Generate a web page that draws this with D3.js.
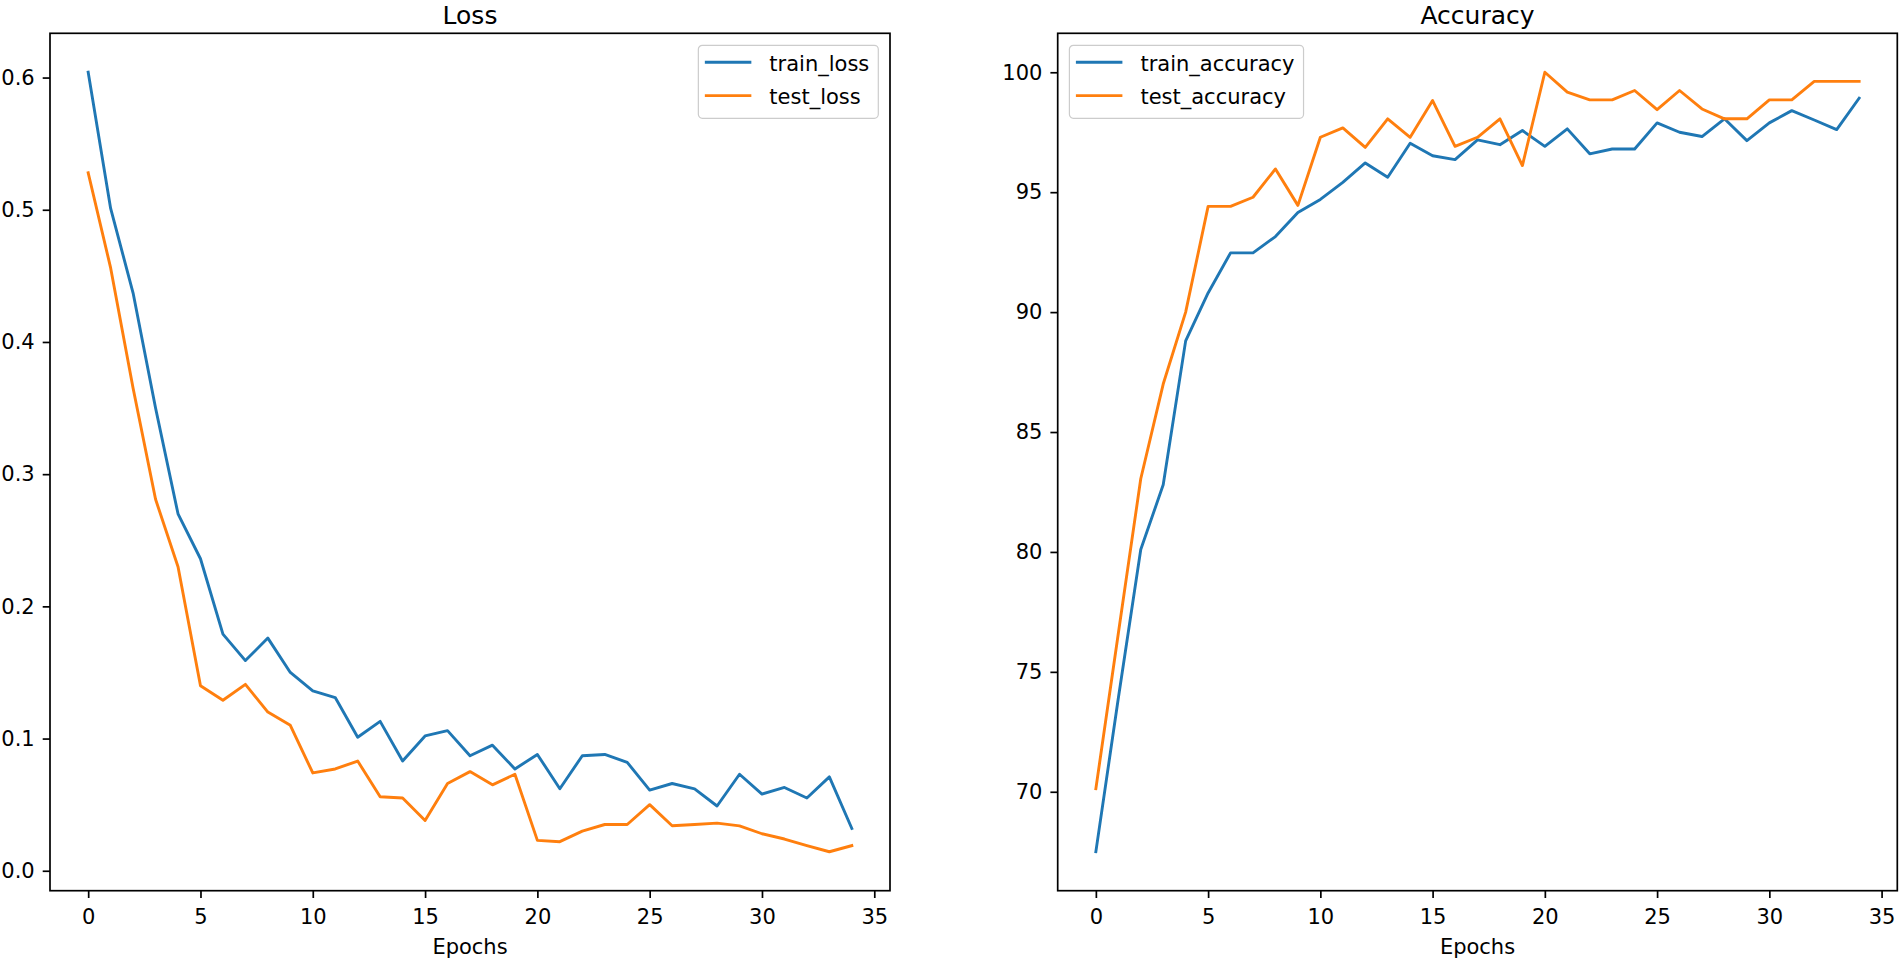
<!DOCTYPE html>
<html>
<head>
<meta charset="utf-8">
<script src="https://cdn.jsdelivr.net/npm/d3@7/dist/d3.min.js"></script>
<style>
    body { margin: 0; background: #fff; }
    svg { font-family: "DejaVu Sans", sans-serif; }
</style>
</head>
<body>
<svg id="chart" width="1901" height="961"></svg>
<script>
// dados
const epochs = [0, 1, 2, 3, 4, 5, 6, 7, 8, 9, 10, 11, 12, 13, 14, 15, 16, 17,
    18, 19, 20, 21, 22, 23, 24, 25, 26, 27, 28, 29, 30, 31, 32, 33, 34];

const trainLoss = [0.604, 0.501, 0.437, 0.350, 0.270, 0.236, 0.179, 0.159, 0.176, 0.150,
    0.136, 0.131, 0.101, 0.113, 0.083, 0.102, 0.106, 0.087, 0.095, 0.077,
    0.088, 0.062, 0.087, 0.088, 0.082, 0.061, 0.066, 0.062, 0.049, 0.073,
    0.058, 0.063, 0.055, 0.071, 0.032];
const testLoss = [0.528, 0.456, 0.365, 0.281, 0.230, 0.140, 0.129, 0.141, 0.120, 0.110,
    0.074, 0.077, 0.083, 0.056, 0.055, 0.038, 0.066, 0.075, 0.065, 0.073,
    0.023, 0.022, 0.030, 0.035, 0.035, 0.050, 0.034, 0.035, 0.036, 0.034,
    0.028, 0.024, 0.019, 0.0144, 0.019];

const trainAcc = [67.5, 73.9, 80.1, 82.8, 88.8, 90.8, 92.47, 92.47, 93.15, 94.15,
    94.7, 95.41, 96.22, 95.62, 97.04, 96.52, 96.36, 97.18, 96.98, 97.57,
    96.91, 97.64, 96.6, 96.8, 96.8, 97.89, 97.5, 97.32, 98.06, 97.15,
    97.89, 98.4, 98.01, 97.61, 98.92];
const testAcc = [70.13, 76.6, 83.05, 87.0, 90.0, 94.41, 94.41, 94.79, 95.97, 94.45,
    97.29, 97.68, 96.87, 98.06, 97.29, 98.82, 96.91, 97.29, 98.06, 96.11,
    100.0, 99.17, 98.85, 98.85, 99.24, 98.44, 99.24, 98.47, 98.06, 98.06,
    98.85, 98.85, 99.62, 99.62, 99.62];

const lossTicks = [0.0, 0.1, 0.2, 0.3, 0.4, 0.5, 0.6];
const accTicks = [70, 75, 80, 85, 90, 95, 100];
const epochTicks = [0, 5, 10, 15, 20, 25, 30, 35];

const colors = ["#1f77b4", "#ff7f0e"];

const svg = d3.select("#chart");

function padExtent(values) {
    // margem de 5% como no matplotlib
    const [lo, hi] = d3.extent(values);
    const m = (hi - lo) * 0.05;
    return [lo - m, hi + m];
}

function createLineChart(box, series, names, yTicks, yFormat, title, legendSide) {
    const g = svg.append("g");

    const xScale = d3.scaleLinear()
        .domain(padExtent(epochs))
        .range([box.left, box.right]);

    const yScale = d3.scaleLinear()
        .domain(padExtent(series.flat()))
        .range([box.bottom, box.top]);

    // Eixos
    const xAxis = g.append("g")
        .attr("transform", `translate(0,${box.bottom})`)
        .call(d3.axisBottom(xScale).tickValues(epochTicks).tickSize(7.3).tickPadding(11).tickFormat(d3.format("d")));

    const yAxis = g.append("g")
        .attr("transform", `translate(${box.left},0)`)
        .call(d3.axisLeft(yScale).tickValues(yTicks).tickSize(7.3).tickPadding(8).tickFormat(d3.format(yFormat)));

    [xAxis, yAxis].forEach(a => {
        a.select(".domain").remove();
        a.selectAll(".tick line").attr("stroke", "#000").attr("stroke-width", 1.7);
        a.selectAll(".tick text").attr("fill", "#000").style("font-size", "21px")
            .style("font-family", "'DejaVu Sans', sans-serif");
    });

    // Linhas
    const lineGenerator = d3.line()
        .x((d, i) => xScale(epochs[i]))
        .y(d => yScale(d));

    const clipId = "clip-" + title;
    g.append("clipPath").attr("id", clipId)
        .append("rect")
        .attr("x", box.left).attr("y", box.top)
        .attr("width", box.right - box.left).attr("height", box.bottom - box.top);

    g.append("g").attr("clip-path", `url(#${clipId})`)
        .selectAll("path")
        .data(series)
        .enter().append("path")
        .attr("d", d => lineGenerator(d))
        .attr("fill", "none")
        .attr("stroke", (d, i) => colors[i])
        .attr("stroke-width", 2.9)
        .attr("stroke-linejoin", "round")
        .attr("stroke-linecap", "square");

    // moldura
    g.append("rect")
        .attr("x", box.left).attr("y", box.top)
        .attr("width", box.right - box.left).attr("height", box.bottom - box.top)
        .attr("fill", "none")
        .attr("stroke", "#000")
        .attr("stroke-width", 1.7);

    // Título
    g.append("text")
        .attr("x", (box.left + box.right) / 2)
        .attr("y", 23.5)
        .attr("text-anchor", "middle")
        .style("font-size", "25px")
        .text(title);

    g.append("text")
        .attr("x", (box.left + box.right) / 2)
        .attr("y", 954)
        .attr("text-anchor", "middle")
        .style("font-size", "21px")
        .text("Epochs");

    // Legenda
    const legend = g.append("g");
    const frame = legend.append("rect")
        .attr("rx", 4).attr("ry", 4)
        .attr("fill", "#fff").attr("fill-opacity", 0.8)
        .attr("stroke", "#cccccc").attr("stroke-width", 1.2);

    const labels = names.map((name, i) => legend.append("text")
        .attr("y", 17 + i * 33.3 + 8.5)
        .style("font-size", "21px")
        .text(name));
    const textW = d3.max(labels, t => t.node().getComputedTextLength());
    const boxW = 6.5 + 46.5 + 18 + textW + 9;
    const boxH = 73;

    labels.forEach(t => t.attr("x", 6.5 + 46.5 + 18));
    names.forEach((name, i) => {
        legend.append("line")
            .attr("x1", 6.5).attr("x2", 6.5 + 46.5)
            .attr("y1", 17 + i * 33.3).attr("y2", 17 + i * 33.3)
            .attr("stroke", colors[i]).attr("stroke-width", 2.9);
    });
    frame.attr("width", boxW).attr("height", boxH);

    const lx = legendSide === "right" ? box.right - 11.7 - boxW : box.left + 11.7;
    legend.attr("transform", `translate(${lx},${box.top + 12})`);
}

createLineChart({ left: 50, right: 890, top: 33.3, bottom: 890.7 },
    [trainLoss, testLoss], ["train_loss", "test_loss"], lossTicks, ".1f", "Loss", "right");

createLineChart({ left: 1057.7, right: 1897.3, top: 33.3, bottom: 890.7 },
    [trainAcc, testAcc], ["train_accuracy", "test_accuracy"], accTicks, "d", "Accuracy", "left");
</script>
</body>
</html>
